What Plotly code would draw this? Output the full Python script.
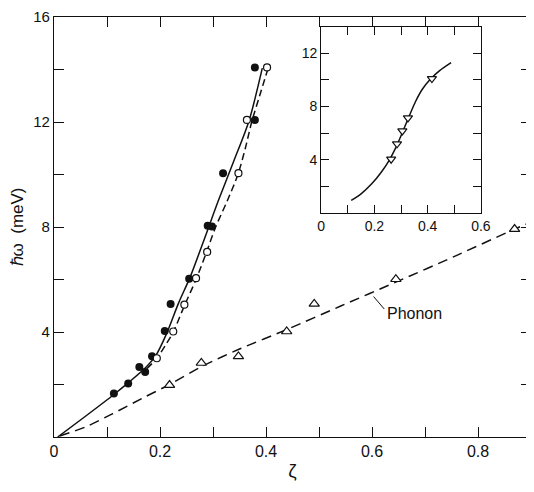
import plotly.graph_objects as go

# Main panel data
filled_x = [0.113, 0.140, 0.161, 0.172, 0.185, 0.209, 0.220, 0.255, 0.290, 0.298, 0.319, 0.379, 0.379]
filled_y = [1.66, 2.04, 2.67, 2.48, 3.08, 4.04, 5.07, 6.03, 8.05, 8.02, 10.05, 12.08, 14.08]

open_x = [0.194, 0.225, 0.246, 0.268, 0.289, 0.348, 0.364, 0.402]
open_y = [3.00, 4.02, 5.04, 6.05, 7.05, 10.05, 12.08, 14.08]

tri_x = [0.218, 0.278, 0.348, 0.439, 0.491, 0.645, 0.869]
tri_y = [1.98, 2.82, 3.07, 4.02, 5.07, 6.01, 7.92]

# Curves
solid_x = [0.007, 0.060, 0.113, 0.142, 0.174, 0.192, 0.212, 0.235, 0.257, 0.282, 0.310, 0.340, 0.368, 0.393]
solid_y = [0.0, 0.80, 1.62, 2.10, 2.67, 3.10, 3.92, 5.10, 6.10, 7.45, 9.00, 10.55, 12.05, 14.05]

dash_x = [0.175, 0.194, 0.212, 0.225, 0.246, 0.268, 0.287, 0.305, 0.327, 0.347, 0.361, 0.373, 0.388, 0.404]
dash_y = [2.60, 3.00, 3.55, 4.00, 5.00, 6.00, 7.00, 8.00, 9.00, 10.00, 11.00, 12.00, 13.00, 14.05]

phonon_x = [0.011, 0.059, 0.110, 0.167, 0.218, 0.282, 0.350, 0.440, 0.540, 0.645, 0.760, 0.869, 0.896]
phonon_y = [0.04, 0.38, 0.88, 1.48, 2.00, 2.72, 3.35, 4.10, 4.98, 5.90, 6.92, 7.92, 8.15]

# Inset data
inset_pts_x = [0.263, 0.285, 0.305, 0.326, 0.416]
inset_pts_y = [4.05, 5.20, 6.17, 7.15, 10.10]
inset_curve_x = [0.113, 0.150, 0.190, 0.225, 0.255, 0.280, 0.305, 0.330, 0.355, 0.380, 0.410, 0.445, 0.488]
inset_curve_y = [0.95, 1.45, 2.20, 3.05, 3.95, 4.90, 6.05, 7.25, 8.40, 9.30, 10.05, 10.70, 11.30]

main_xticks = [0, 0.1, 0.2, 0.3, 0.4, 0.5, 0.6, 0.7, 0.8, 0.9]
main_xtext = ["0", "", "0.2", "", "0.4", "", "0.6", "", "0.8", ""]
main_yticks = [0, 2, 4, 6, 8, 10, 12, 14, 16]
main_ytext = ["", "", "4", "", "8", "", "12", "", "16"]
inset_xticks = [0, 0.1, 0.2, 0.3, 0.4, 0.5, 0.6]
inset_xtext = ["0", "", "0.2", "", "0.4", "", "0.6"]
inset_yticks = [0, 2, 4, 6, 8, 10, 12, 14]
inset_ytext = ["", "", "4", "", "8", "", "12", ""]

BLACK = "#111111"
fig = go.Figure()

fig.add_trace(go.Scatter(x=solid_x, y=solid_y, mode="lines", line=dict(color=BLACK, width=1.5, shape="spline", smoothing=0.8), showlegend=False))
fig.add_trace(go.Scatter(x=dash_x, y=dash_y, mode="lines", line=dict(color=BLACK, width=1.5, dash="7px,4px", shape="spline", smoothing=0.8), showlegend=False))
fig.add_trace(go.Scatter(x=phonon_x, y=phonon_y, mode="lines", line=dict(color=BLACK, width=1.5, dash="10px,6px", shape="spline", smoothing=0.8), showlegend=False))
fig.add_trace(go.Scatter(x=filled_x, y=filled_y, mode="markers", marker=dict(symbol="circle", size=8, color=BLACK), showlegend=False))
fig.add_trace(go.Scatter(x=open_x, y=open_y, mode="markers", marker=dict(symbol="circle", size=7, color="white", line=dict(color=BLACK, width=1.2)), showlegend=False))
fig.add_trace(go.Scatter(x=tri_x, y=tri_y, mode="markers", marker=dict(symbol="triangle-up", size=9, color="white", line=dict(color=BLACK, width=1.2)), showlegend=False))

fig.add_trace(go.Scatter(x=inset_curve_x, y=inset_curve_y, xaxis="x2", yaxis="y2", mode="lines", line=dict(color=BLACK, width=1.5, shape="spline", smoothing=0.8), showlegend=False))
fig.add_trace(go.Scatter(x=inset_pts_x, y=inset_pts_y, xaxis="x2", yaxis="y2", mode="markers", marker=dict(symbol="triangle-down", size=8, color="white", line=dict(color=BLACK, width=1.2)), showlegend=False))

font = dict(family="Liberation Sans, Arial, sans-serif", size=15, color=BLACK)
axis_common = dict(showgrid=False, zeroline=False, showline=True, linecolor=BLACK, linewidth=1.2,
                   mirror="allticks", ticks="inside", tickcolor=BLACK, tickwidth=1.2, tickmode="array",
                   automargin=False, ticklabeloverflow="allow")

fig.update_layout(
    width=526, height=484,
    margin=dict(l=46, r=3, t=9, b=55),
    paper_bgcolor="white", plot_bgcolor="white",
    font=font,
    xaxis=dict(range=[0, 0.9], tickvals=main_xticks, ticktext=main_xtext, ticklen=10,
               tickfont=dict(size=16),
               title=dict(text="ζ", font=dict(size=19), standoff=4), **axis_common),
    yaxis=dict(range=[0, 16], tickvals=main_yticks, ticktext=main_ytext, ticklen=10,
               title=dict(text="ℏω  (meV)", font=dict(size=17), standoff=8), **axis_common),
    xaxis2=dict(domain=[0.560, 0.895], anchor="y2", range=[0, 0.6], tickvals=inset_xticks, ticktext=inset_xtext,
                ticklen=8, tickfont=dict(size=14), **axis_common),
    yaxis2=dict(domain=[0.533, 0.977], anchor="x2", range=[0, 14], tickvals=inset_yticks, ticktext=inset_ytext,
                ticklen=8, tickfont=dict(size=14), **axis_common),
    annotations=[dict(x=0.603, y=5.35, xref="x", yref="y", text="", showarrow=True, arrowhead=0,
                      arrowwidth=1, arrowcolor=BLACK, ax=12, ay=14),
                 dict(x=0.625, y=4.72, xref="x", yref="y", text="Phonon", showarrow=False,
                      xanchor="left", font=dict(size=16, color=BLACK))],
)

fig.write_html("out.html")
